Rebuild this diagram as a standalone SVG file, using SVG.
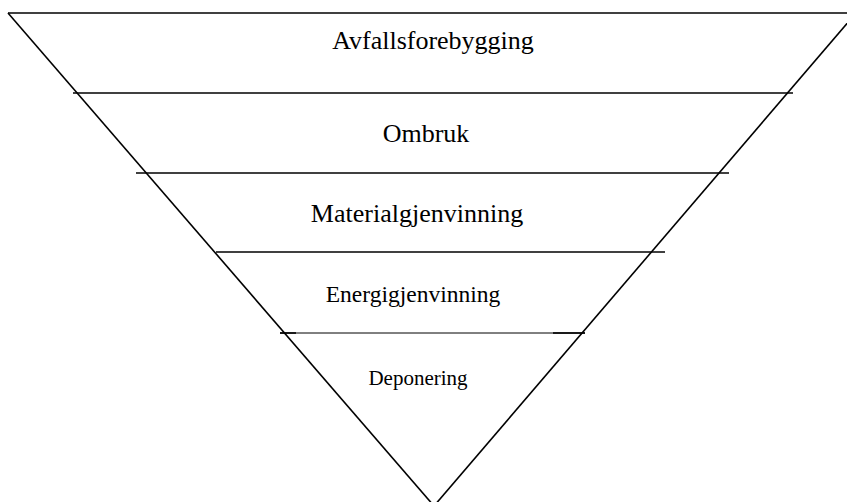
<svg xmlns="http://www.w3.org/2000/svg" width="847" height="502" viewBox="0 0 847 502">
<style>
.ln{stroke:#000;stroke-width:1.6;fill:none}
.thin{stroke:#000;stroke-width:1;fill:none}
.t{font-family:"Liberation Serif","Times New Roman",serif;font-size:26px;fill:#000;text-anchor:middle}
</style>
<rect width="847" height="502" fill="#fff"/>
<g id="connectors">
<line class="ln" x1="8" y1="13" x2="434" y2="506"/>
<line class="ln" x1="856" y1="13" x2="434" y2="506"/>
<line class="ln" x1="8" y1="13" x2="847" y2="13"/>
<line class="ln" x1="73" y1="93" x2="793" y2="93"/>
<line class="ln" x1="136" y1="173" x2="729" y2="173"/>
<line class="ln" x1="216" y1="252" x2="665" y2="252"/>
<line class="thin" x1="280" y1="333" x2="585" y2="333"/>
<line class="ln" x1="280" y1="333" x2="296" y2="333"/>
<line class="ln" x1="553" y1="333" x2="585" y2="333"/>
</g>
<g id="n1"><text class="t" x="433" y="49">Avfallsforebygging</text></g>
<g id="n2"><text class="t" x="426" y="142">Ombruk</text></g>
<g id="n3"><text class="t" x="417" y="222">Materialgjenvinning</text></g>
<g id="n4"><text class="t" x="413" y="302" style="font-size:23.5px">Energigjenvinning</text></g>
<g id="n5"><text class="t" x="418" y="385" style="font-size:21px">Deponering</text></g>
</svg>
